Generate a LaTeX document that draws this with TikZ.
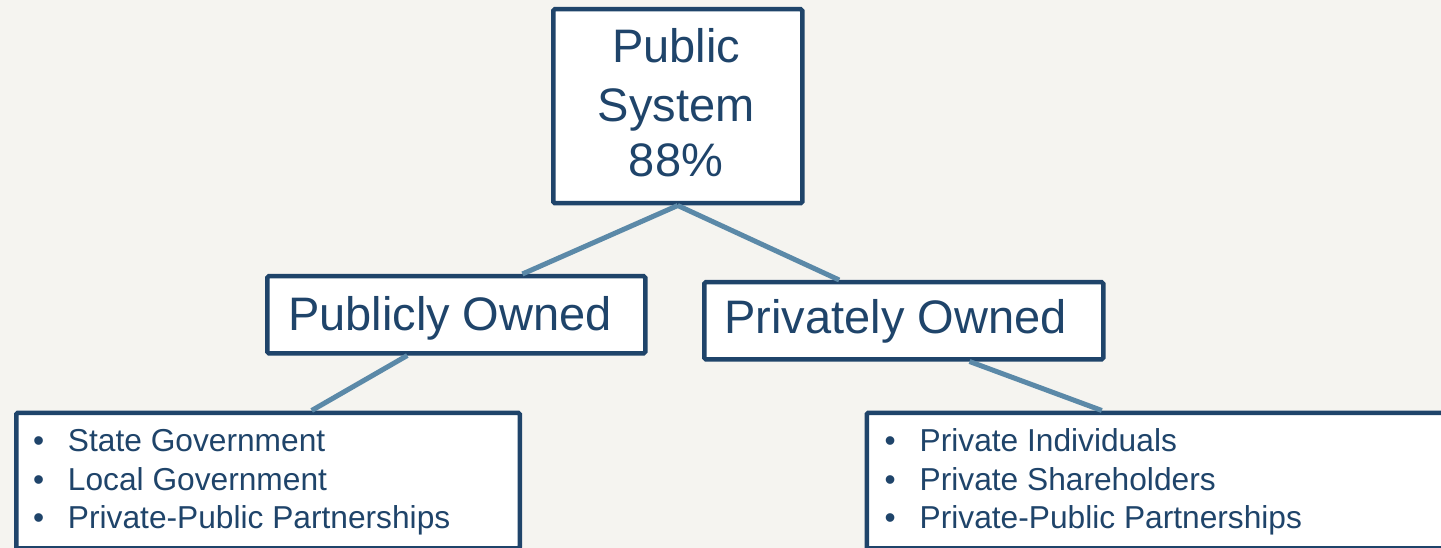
\documentclass[tikz,border=0pt]{standalone}
\usepackage{fontspec}
\setmainfont{Liberation Sans}
\usetikzlibrary{calc}

\definecolor{paper}{HTML}{F5F4F0}
\definecolor{navy}{HTML}{1F446A}
\definecolor{steel}{HTML}{5B89A8}

\begin{document}
\begin{tikzpicture}[x=1pt, y=-1pt,
  box/.style={draw=navy, line width=4.5pt, fill=white, rounded corners=1.5pt,
              inner sep=0pt, anchor=north west},
  link/.style={draw=steel, line width=5pt},
  bigtext/.style={text=navy, font=\fontsize{47}{57}\selectfont, inner sep=0pt, anchor=base},
  itemtext/.style={text=navy, font=\fontsize{31.7}{38}\selectfont, inner sep=0pt, anchor=base west}
]
% page and background
\fill[paper] (0,0) rectangle (1441,548);
\useasboundingbox (0,0) rectangle (1441,548);
\clip (0,0) rectangle (1441,548);

% boxes
\node[box, minimum width=249pt, minimum height=194pt] (sys)  at (551,7) {};
\node[box, minimum width=378pt, minimum height=77pt]  (pub)  at (265,274) {};
\node[box, minimum width=399pt, minimum height=77pt]  (priv) at (702,280) {};
\node[box, minimum width=503.5pt, minimum height=135.5pt] (plist) at (14,410.5) {};
\node[box, minimum width=620pt, minimum height=135.5pt]   (rlist) at (864.5,410.5) {};

% connectors
\draw[link] (sys.south) -- ($(pub.north west)!0.673!(pub.north east)$);
\draw[link] (sys.south) -- ($(priv.north west)!0.34!(priv.north east)$);
\draw[link] ($(pub.south west)!0.372!(pub.south east)$) -- ($(plist.north west)!0.586!(plist.north east)$);
\draw[link] ($(priv.south west)!0.663!(priv.south east)$) -- ($(rlist.north west)!0.38!(rlist.north east)$);

% headings
\node[bigtext] (sysa) at (676,63)    {Public};
\node[bigtext] (sysb) at (676,121.5) {System};
\node[bigtext] (sysc) at (676,177)   {88\%};
\node[bigtext] (pubt)  at (450,330)   {Publicly Owned};
\node[bigtext] (privt) at (895.5,333) {Privately Owned};

% bullet lists
\foreach \txt [count=\i] in {State Government, Local Government, Private-Public Partnerships}
  \node[itemtext] (pl\i) at (32.8, 413.5+38.3*\i) {\makebox[35pt][l]{•}\txt};
\foreach \txt [count=\i] in {Private Individuals, Private Shareholders, Private-Public Partnerships}
  \node[itemtext] (rl\i) at (884.5, 413.5+38.3*\i) {\makebox[35pt][l]{•}\txt};
\end{tikzpicture}
\end{document}
